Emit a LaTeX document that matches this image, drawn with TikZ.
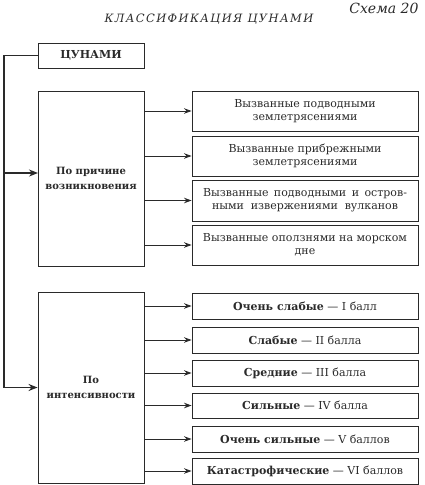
\documentclass[tikz,border=0pt]{standalone}
\usepackage{fontspec}
\setmainfont{DejaVu Serif}
\newfontfamily\titlefont[LetterSpace=12]{DejaVu Serif}
\usetikzlibrary{arrows.meta}
\definecolor{ink}{HTML}{2A2A2A}
\begin{document}
\begin{tikzpicture}[x=1pt,y=-1pt,
  box/.style={draw=ink, line width=0.9pt, align=center, inner sep=1pt,
    font=\fontsize{11}{12.8}\selectfont, text=ink},
  lbox/.style={box, minimum width=106pt, font=\bfseries\fontsize{10}{14.5}\selectfont},
  rbox/.style={box, minimum width=226pt},
  conn/.style={draw=ink, line width=0.9pt, -{Stealth[length=7.5pt,width=5.5pt]}},
  spine/.style={draw=ink, line width=1.6pt},
  spinearrow/.style={spine, -{Stealth[length=9pt,width=7pt]}}]
\useasboundingbox (0,0) rectangle (424,485);

\node[anchor=east, font=\itshape\fontsize{14}{16}\selectfont, text=ink] (schema) at (422,8.5) {Схема 20};
\node[font=\titlefont\itshape\fontsize{11.5}{13}\selectfont, text=ink] (title) at (209,19.5) {КЛАССИФИКАЦИЯ ЦУНАМИ};

\node[lbox, minimum height=25pt, font=\bfseries\fontsize{11}{13}\selectfont] (tsu) at (91,55.5) {ЦУНАМИ};
\node[lbox, minimum height=175pt] (cause) at (91,178.5) {По причине\\возникновения};
\node[lbox, minimum height=191pt] (inten) at (91,387.5) {По\\интенсивности};

\node[rbox, minimum height=40pt] (r1) at (305,111) {Вызванные подводными\\землетрясениями};
\node[rbox, minimum height=40pt] (r2) at (305,156) {Вызванные прибрежными\\землетрясениями};
\node[rbox, minimum height=41pt] (r3) at (305,200.5) {\makebox[204pt][s]{Вызванные подводными и остров-}\\\makebox[186pt][s]{ными извержениями вулканов}};
\node[rbox, minimum height=40pt] (r4) at (305,245) {Вызванные оползнями на морском\\дне};

\node[rbox, minimum height=26pt] (s1) at (305,306) {\textbf{Очень слабые} — I балл};
\node[rbox, minimum height=26pt] (s2) at (305,340) {\textbf{Слабые} — II балла};
\node[rbox, minimum height=26pt] (s3) at (305,373) {\textbf{Средние} — III балла};
\node[rbox, minimum height=25pt] (s4) at (305,405.5) {\textbf{Сильные} — IV балла};
\node[rbox, minimum height=26pt] (s5) at (305,439) {\textbf{Очень сильные} — V баллов};
\node[rbox, minimum height=26pt] (s6) at (305,471) {\textbf{Катастрофические} — VI баллов};

\coordinate (top) at (4,55.5);
\coordinate (mid) at (4,173);
\coordinate (bot) at (4,387.5);
\coordinate (causein) at (38,173);

\draw[spine] (tsu.west) -- (top) -- (bot);
\draw[spinearrow] (bot) -- (inten.west);
\draw[spinearrow] (mid) -- (causein);

\foreach \n in {r1,r2,r3,r4} \draw[conn] (cause.east |- \n.west) -- (\n.west);
\foreach \n in {s1,s2,s3,s4,s5,s6} \draw[conn] (inten.east |- \n.west) -- (\n.west);
\end{tikzpicture}
\end{document}
